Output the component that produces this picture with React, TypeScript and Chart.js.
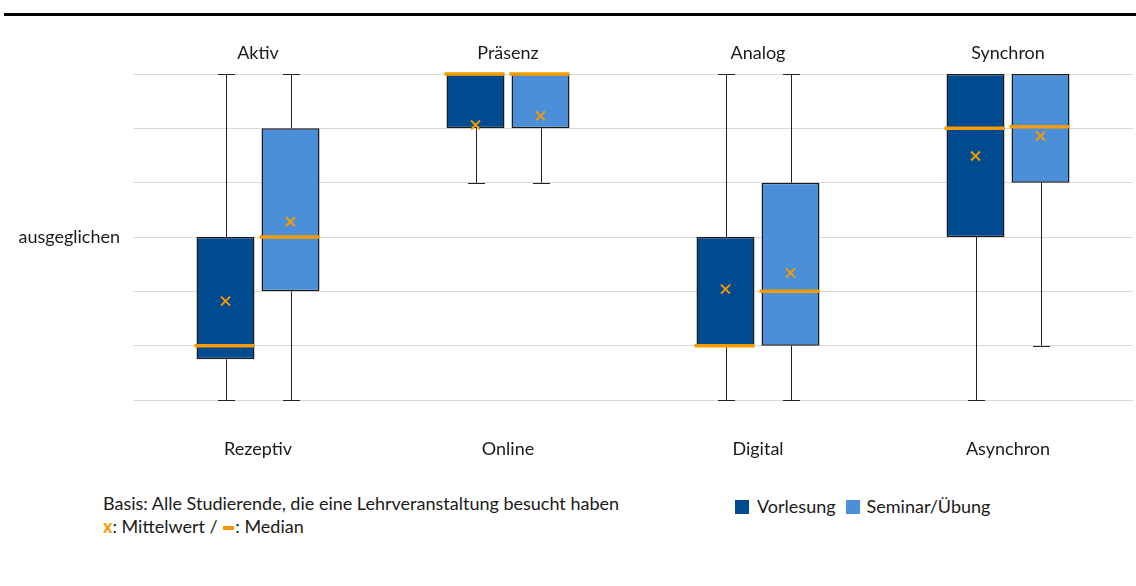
import React, { useEffect, useRef } from "react";
import { Chart, registerables } from "chart.js";

Chart.register(...registerables);

const categoriesBottom = ["Rezeptiv", "Online", "Digital", "Asynchron"];
const categoriesTop = ["Aktiv", "Präsenz", "Analog", "Synchron"];
const yTickLabels: Record<number, string> = { 4: "ausgeglichen" };

const vorlesungMin = [1, 5, 1, 1];
const vorlesungQ1 = [1.75, 6, 2, 4];
const vorlesungMedian = [2, 7, 2, 6];
const vorlesungQ3 = [4, 7, 4, 7];
const vorlesungMax = [7, 7, 7, 7];
const vorlesungMean = [2.82, 6.06, 3.04, 5.49];

const seminarMin = [1, 5, 1, 2];
const seminarQ1 = [3, 6, 2, 5];
const seminarMedian = [4, 7, 3, 6.03];
const seminarQ3 = [6, 7, 5, 7];
const seminarMax = [7, 7, 7, 7];
const seminarMean = [4.28, 6.23, 3.34, 5.86];

const FONT = "Lato, 'Open Sans', sans-serif";
const FS = 18;
const DARK = "#004a8f";
const LIGHT = "#4a8fd8";
const ORANGE = "#f59b00";

const stats = [
  { min: vorlesungMin, q1: vorlesungQ1, med: vorlesungMedian, q3: vorlesungQ3, max: vorlesungMax, mean: vorlesungMean },
  { min: seminarMin, q1: seminarQ1, med: seminarMedian, q3: seminarQ3, max: seminarMax, mean: seminarMean },
];

const boxPlugin = {
  id: "boxExtras",
  beforeDatasetsDraw(chart: any) {
    const ctx = chart.ctx;
    const y = chart.scales.y;
    ctx.save();
    ctx.strokeStyle = "#222";
    ctx.lineWidth = 1;
    stats.forEach((s, di) => {
      const meta = chart.getDatasetMeta(di);
      meta.data.forEach((bar: any, i: number) => {
        const x = Math.round(bar.x) + 0.5;
        const segs = [
          [s.min[i], s.q1[i]],
          [s.q3[i], s.max[i]],
        ];
        segs.forEach(([a, b]) => {
          if (a === b) return;
          ctx.beginPath();
          ctx.moveTo(x, y.getPixelForValue(a));
          ctx.lineTo(x, y.getPixelForValue(b));
          ctx.stroke();
        });
        [s.min[i], s.max[i]].forEach((v) => {
          const py = Math.round(y.getPixelForValue(v)) + 0.5;
          ctx.beginPath();
          ctx.moveTo(x - 8.5, py);
          ctx.lineTo(x + 8.5, py);
          ctx.stroke();
        });
      });
    });
    ctx.restore();
  },
  afterDatasetsDraw(chart: any) {
    const ctx = chart.ctx;
    const y = chart.scales.y;
    ctx.save();
    stats.forEach((s, di) => {
      const meta = chart.getDatasetMeta(di);
      meta.data.forEach((bar: any, i: number) => {
        const half = bar.width / 2;
        const py = y.getPixelForValue(s.med[i]);
        ctx.strokeStyle = ORANGE;
        ctx.lineWidth = 3.5;
        ctx.beginPath();
        ctx.moveTo(bar.x - half - 2, py);
        ctx.lineTo(bar.x + half, py);
        ctx.stroke();
        const my = y.getPixelForValue(s.mean[i]);
        const r = 4.5;
        ctx.lineWidth = 2;
        ctx.beginPath();
        ctx.moveTo(bar.x - r, my - r);
        ctx.lineTo(bar.x + r, my + r);
        ctx.moveTo(bar.x - r, my + r);
        ctx.lineTo(bar.x + r, my - r);
        ctx.stroke();
      });
    });
    ctx.restore();
  },
};

export default function App() {
  const ref = useRef<HTMLCanvasElement>(null);
  useEffect(() => {
    if (!ref.current) return;
    const chart = new Chart(ref.current, {
      type: "bar",
      data: {
        labels: categoriesBottom,
        datasets: [
          {
            label: "Vorlesung",
            data: vorlesungQ1.map((v, i) => [v, vorlesungQ3[i]]),
            backgroundColor: DARK,
            borderColor: "#1a1a1a",
            borderWidth: 1.5,
            borderSkipped: false,
          },
          {
            label: "Seminar/Übung",
            data: seminarQ1.map((v, i) => [v, seminarQ3[i]]),
            backgroundColor: LIGHT,
            borderColor: "#1a1a1a",
            borderWidth: 1.5,
            borderSkipped: false,
          },
        ],
      },
      options: {
        animation: false,
        responsive: false,
        maintainAspectRatio: false,
        layout: { padding: { left: 0, right: 3, top: 0, bottom: 0 } },
        datasets: { bar: { categoryPercentage: 0.52, barPercentage: 0.892 } },
        plugins: { legend: { display: false }, tooltip: { enabled: false } },
        scales: {
          x: {
            position: "bottom",
            offset: true,
            grid: { display: false, drawTicks: false },
            border: { display: false },
            ticks: { font: { family: FONT, size: FS }, color: "#1a1a1a", padding: 38 },
            afterFit: (s: any) => { s.height = 70; },
          },
          x2: {
            type: "category",
            position: "top",
            labels: categoriesTop,
            offset: true,
            grid: { display: false, drawTicks: false },
            border: { display: false },
            ticks: { font: { family: FONT, size: FS }, color: "#1a1a1a", padding: 10 },
            afterFit: (s: any) => { s.height = 74; },
          },
          y: {
            min: 1,
            max: 7,
            grid: { color: "#d9d9d9", drawTicks: false, lineWidth: 1 },
            border: { display: false },
            ticks: {
              stepSize: 1,
              autoSkip: false,
              padding: 13,
              font: { family: FONT, size: FS },
              color: "#1a1a1a",
              callback: (v: any) => yTickLabels[v as number] ?? "",
            },
            afterFit: (s: any) => { s.width = 133; },
          },
        },
      },
      plugins: [boxPlugin],
    } as any);
    return () => chart.destroy();
  }, []);

  return (
    <div style={{ position: "fixed", left: 0, top: 0, width: 1136, height: 586, background: "#fff", fontFamily: FONT, color: "#1a1a1a" }}>
      <div style={{ position: "absolute", left: 4, top: 13, width: 1132, height: 3, background: "#000" }} />
      <canvas ref={ref} width={1136} height={470} style={{ position: "absolute", left: 0, top: 0, width: 1136, height: 470 }} />
      <div style={{ position: "absolute", left: 103, top: 492, fontSize: FS, lineHeight: "23px" }}>
        <div>Basis: Alle Studierende, die eine Lehrveranstaltung besucht haben</div>
        <div>
          <span style={{ color: ORANGE, fontWeight: 700 }}>x</span>: Mittelwert /{" "}
          <span style={{ display: "inline-block", width: 11, height: 4, background: ORANGE, verticalAlign: "middle", margin: "0 1px" }} />: Median
        </div>
      </div>
      <div style={{ position: "absolute", left: 735, top: 495, display: "flex", alignItems: "center", fontSize: FS, lineHeight: "23px" }}>
        <span style={{ display: "inline-block", width: 14, height: 14, background: DARK, marginRight: 8 }} />
        <span style={{ marginRight: 10 }}>Vorlesung</span>
        <span style={{ display: "inline-block", width: 14, height: 14, background: LIGHT, marginRight: 7 }} />
        <span>Seminar/Übung</span>
      </div>
    </div>
  );
}
